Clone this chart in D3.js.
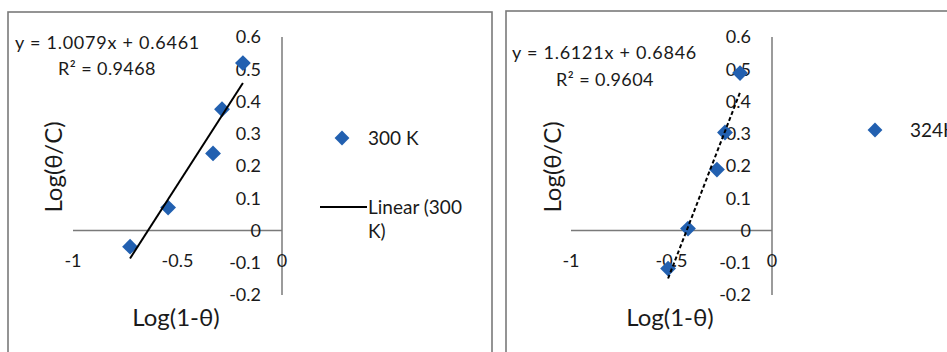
<!DOCTYPE html>
<html><head><meta charset="utf-8">
<script src="https://cdn.jsdelivr.net/npm/d3@7"></script>
<style>body{margin:0;background:#fff;} svg{display:block;}</style>
</head><body>
<svg id="c" width="947" height="352"></svg>
<script>
// Data
const seriesNames = ["300 K", "324K"];
const x300 = [-0.727, -0.545, -0.330, -0.287, -0.187];
const y300 = [-0.050, 0.071, 0.239, 0.376, 0.519];
const x324 = [-0.517, -0.418, -0.274, -0.234, -0.159];
const y324 = [-0.118, 0.006, 0.189, 0.304, 0.488];
const slopes = [1.0079, 1.6121];
const intercepts = [0.6461, 0.6846];
const equations = ["y = 1.0079x + 0.6461", "y = 1.6121x + 0.6846"];
const r2Labels = ["R² = 0.9468", "R² = 0.9604"];
const xTicks = [-1, -0.5, 0];
const yTicks = [-0.2, -0.1, 0, 0.1, 0.2, 0.3, 0.4, 0.5, 0.6];
const xTitle = "Log(1-θ)";
const yTitle = "Log(θ/C)";

const svg = d3.select("#c");
const font = "Lato, 'Open Sans', sans-serif";
const blue = "#2260b0";
const txt = "#1a1a1a";

const panels = [
  {box:[8,12,484,360], x0:73, x1:282, xs:x300, ys:y300, dash:null,
   eqX:15, eqY:43, r2X:107, r2Y:69, yTitleX:53, xTitleX:176,
   legend:{dx:342, dy:138, line:true}},
  {box:[506,11,460,360], x0:571, x1:772, xs:x324, ys:y324, dash:"4,2.5",
   eqX:512, eqY:53, r2X:605, r2Y:80, yTitleX:552, xTitleX:670,
   legend:{dx:875, dy:130, line:false}}
];

panels.forEach((p,i)=>{
  const g = svg.append("g");
  g.append("rect").attr("x",p.box[0]).attr("y",p.box[1]).attr("width",p.box[2]).attr("height",p.box[3])
    .attr("fill","#fff").attr("stroke","#7a7a7a").attr("stroke-width",1.6);
  const x = d3.scaleLinear().domain([-1,0]).range([p.x0,p.x1]);
  const y = d3.scaleLinear().domain([-0.2,0.6]).range([295,37]);

  // axes lines
  g.append("line").attr("x1",x(-1)).attr("x2",x(0)).attr("y1",y(0)).attr("y2",y(0))
    .attr("stroke","#7a7a7a").attr("stroke-width",1.5);
  g.append("line").attr("x1",x(0)).attr("x2",x(0)).attr("y1",y(0.6)).attr("y2",y(-0.2))
    .attr("stroke","#7a7a7a").attr("stroke-width",1.5);

  // y tick labels
  g.selectAll(".yt").data(yTicks).enter().append("text")
    .attr("x",x(0)-21).attr("y",d=>y(d)).attr("dy","0.36em").attr("text-anchor","end")
    .attr("font-family",font).attr("font-size",18).attr("fill",txt)
    .text(d=>d===0?"0":d3.format(".1f")(d).replace("−","-"));
  // x tick labels
  g.selectAll(".xt").data(xTicks).enter().append("text")
    .attr("x",d=>x(d)).attr("y",261).attr("dy","0.36em").attr("text-anchor","middle")
    .attr("font-family",font).attr("font-size",18).attr("fill",txt)
    .text(d=>String(d));

  // points
  const sym = d3.symbol().type(d3.symbolDiamond2).size(160);
  g.selectAll(".pt").data(p.xs.map((v,k)=>[v,p.ys[k]])).enter().append("path")
    .attr("d",sym).attr("transform",d=>`translate(${x(d[0])},${y(d[1])})`)
    .attr("fill",blue);

  // trendline
  const xmin = d3.min(p.xs), xmax = d3.max(p.xs);
  const ln = g.append("line").attr("x1",x(xmin)).attr("y1",y(slopes[i]*xmin+intercepts[i]))
    .attr("x2",x(xmax)).attr("y2",y(slopes[i]*xmax+intercepts[i]))
    .attr("stroke","#000").attr("stroke-width",2);
  if(p.dash) ln.attr("stroke-dasharray",p.dash);

  // equation labels
  g.append("text").attr("x",p.eqX).attr("y",p.eqY).attr("dy","0.36em")
    .attr("font-family",font).attr("font-size",18).attr("fill",txt).attr("letter-spacing",0.75).text(equations[i]);
  g.append("text").attr("x",p.r2X).attr("y",p.r2Y).attr("dy","0.36em").attr("text-anchor","middle")
    .attr("font-family",font).attr("font-size",18).attr("fill",txt).attr("letter-spacing",0.4).text(r2Labels[i]);

  // titles
  g.append("text").attr("transform",`translate(${p.yTitleX},167) rotate(-90)`).attr("dy","0.36em")
    .attr("text-anchor","middle").attr("font-family",font).attr("font-size",24).attr("fill",txt).text(yTitle);
  g.append("text").attr("x",p.xTitleX).attr("y",317).attr("dy","0.36em")
    .attr("text-anchor","middle").attr("font-family",font).attr("font-size",24).attr("fill",txt).text(xTitle);

  // legend
  const L = p.legend;
  g.append("path").attr("d",d3.symbol().type(d3.symbolDiamond2).size(140))
    .attr("transform",`translate(${L.dx},${L.dy})`).attr("fill",blue);
  g.append("text").attr("x",L.dx+(L.line?26:35)).attr("y",L.dy).attr("dy","0.36em")
    .attr("font-family",font).attr("font-size",19).attr("fill",txt).text(seriesNames[i]);
  if(L.line){
    g.append("line").attr("x1",320).attr("x2",367).attr("y1",207).attr("y2",207)
      .attr("stroke","#000").attr("stroke-width",2);
    g.append("text").attr("x",368).attr("y",207).attr("dy","0.36em")
      .attr("font-family",font).attr("font-size",19).attr("fill",txt).text("Linear (300");
    g.append("text").attr("x",368).attr("y",231).attr("dy","0.36em")
      .attr("font-family",font).attr("font-size",19).attr("fill",txt).text("K)");
  }
});
</script>
</body></html>
